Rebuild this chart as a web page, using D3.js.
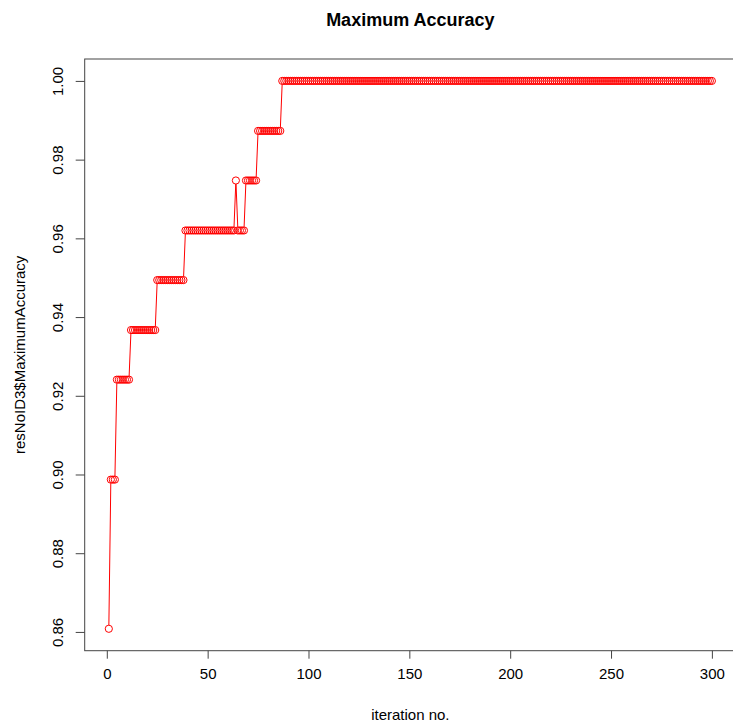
<!DOCTYPE html>
<html>
<head>
<meta charset="utf-8">
<script src="https://cdn.jsdelivr.net/npm/d3@7"></script>
<style>
  html, body { margin: 0; padding: 0; background: #fff; }
  svg { display: block; }
  text { font-family: "Liberation Sans", Arial, Helvetica, sans-serif; fill: #000; }
</style>
</head>
<body>
<script>
// ---- data ----
const chartTitle = "Maximum Accuracy";
const xTitle = "iteration no.";
const yTitle = "resNoID3$MaximumAccuracy";
const xTicks = [0, 50, 100, 150, 200, 250, 300];
const yTicks = [0.86, 0.88, 0.90, 0.92, 0.94, 0.96, 0.98, 1.00];
// run-length description of the series
const runValue  = [0.8608, 0.8987, 0.9241, 0.9367, 0.9494, 0.9620, 0.9747, 0.9620, 0.9747, 0.9873, 1.0000];
const runLength = [1,      3,      7,      13,     14,     25,     1,      4,      6,      12,     214];

const series = [];
runValue.forEach((v, i) => { for (let k = 0; k < runLength[i]; k++) series.push(v); });
const points = series.map((v, i) => ({ x: i + 1, y: v }));

// ---- layout ----
const W = 733, H = 728;
const plot = { left: 84.7, right: 736, top: 59, bottom: 650.7 };

const xExt = d3.extent(points, d => d.x);
const yExt = d3.extent(points, d => d.y);
const xPad = (xExt[1] - xExt[0]) * 0.04, yPad = (yExt[1] - yExt[0]) * 0.04;

const x = d3.scaleLinear().domain([xExt[0] - xPad, xExt[1] + xPad]).range([plot.left, plot.right]);
const y = d3.scaleLinear().domain([yExt[0] - yPad, yExt[1] + yPad]).range([plot.bottom, plot.top]);

const svg = d3.select("body").append("svg").attr("width", W).attr("height", H);
svg.append("rect").attr("width", W).attr("height", H).attr("fill", "#fff");

const R = 3.6;
const red = "#ff0000";

// lines with gaps around points (R type = "b")
const segs = [];
for (let i = 1; i < points.length; i++) {
  const x0 = x(points[i-1].x), y0 = y(points[i-1].y), x1 = x(points[i].x), y1 = y(points[i].y);
  const dx = x1 - x0, dy = y1 - y0, len = Math.hypot(dx, dy);
  if (len > 2 * R) {
    const ux = dx / len, uy = dy / len;
    segs.push([x0 + ux * R, y0 + uy * R, x1 - ux * R, y1 - uy * R]);
  }
}
svg.append("g").selectAll("line").data(segs).join("line")
  .attr("x1", d => d[0]).attr("y1", d => d[1]).attr("x2", d => d[2]).attr("y2", d => d[3])
  .attr("stroke", red).attr("stroke-width", 1);

svg.append("g").selectAll("circle").data(points).join("circle")
  .attr("cx", d => x(d.x)).attr("cy", d => y(d.y)).attr("r", R)
  .attr("fill", "none").attr("stroke", red).attr("stroke-width", 1);

// frame
const axisColor = "#444";
svg.append("rect")
  .attr("x", plot.left).attr("y", plot.top)
  .attr("width", plot.right - plot.left).attr("height", plot.bottom - plot.top)
  .attr("fill", "none").attr("stroke", axisColor).attr("stroke-width", 1);

// x axis
const xAxis = d3.axisBottom(x).tickValues(xTicks).tickSize(8).tickPadding(10).tickFormat(d3.format("d"));
const gx = svg.append("g").attr("transform", `translate(0,${plot.bottom})`).call(xAxis);
gx.select(".domain").remove();
gx.selectAll(".tick line").attr("stroke", axisColor);
gx.selectAll(".tick text").style("font-size", "15px").attr("fill", "#000")
  .style("font-family", '"Liberation Sans", Arial, sans-serif');

// y axis
const yAxis = d3.axisLeft(y).tickValues(yTicks).tickSize(9).tickFormat(d3.format(".2f"));
const gy = svg.append("g").attr("transform", `translate(${plot.left},0)`).call(yAxis);
gy.select(".domain").remove();
gy.selectAll(".tick line").attr("stroke", axisColor);
gy.selectAll(".tick text")
  .attr("x", null).attr("dy", null)
  .attr("transform", "translate(-22,0) rotate(-90)")
  .attr("text-anchor", "middle")
  .style("font-size", "15px").attr("fill", "#000")
  .style("font-family", '"Liberation Sans", Arial, sans-serif');

// titles
svg.append("text").attr("x", (plot.left + plot.right) / 2).attr("y", 26)
  .attr("text-anchor", "middle").style("font-size", "18px").style("font-weight", "bold").text(chartTitle);
svg.append("text").attr("x", (plot.left + plot.right) / 2).attr("y", 720)
  .attr("text-anchor", "middle").style("font-size", "15px").text(xTitle);
svg.append("text")
  .attr("transform", `translate(25,${(plot.top + plot.bottom) / 2}) rotate(-90)`)
  .attr("text-anchor", "middle").style("font-size", "15px").text(yTitle);
</script>
</body>
</html>
